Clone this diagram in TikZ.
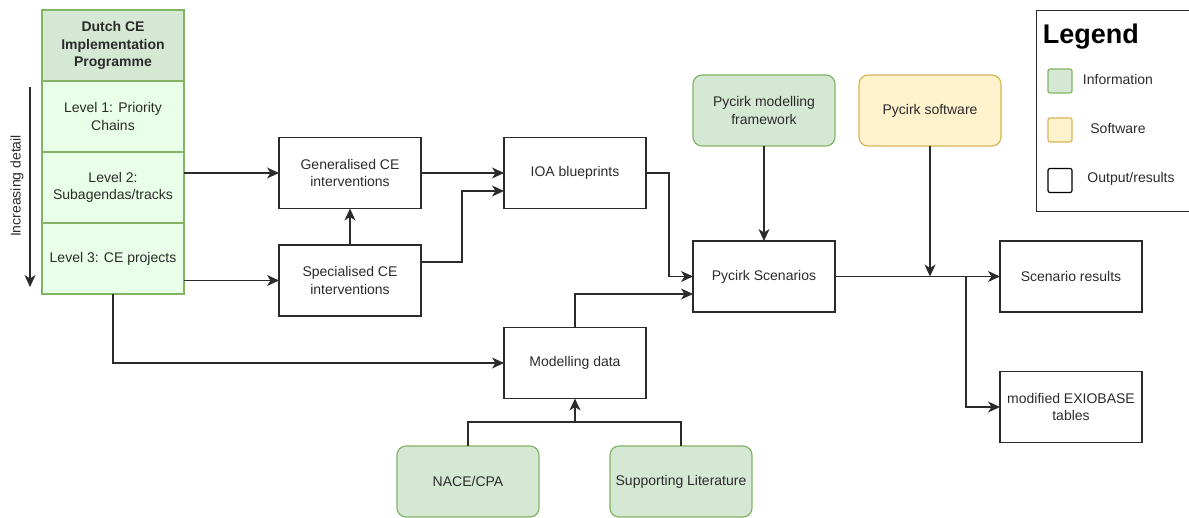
\documentclass[tikz,border=0pt]{standalone}
\usepackage{fontspec}
\setmainfont{Liberation Sans}
\usepackage{tikz}
\usetikzlibrary{positioning,arrows.meta,calc}
\definecolor{infofill}{HTML}{D5E8D4}
\definecolor{infoline}{HTML}{82B366}
\definecolor{levelfill}{HTML}{E8FFE8}
\definecolor{softfill}{HTML}{FFF2CC}
\definecolor{softline}{HTML}{D6B656}
\definecolor{ink}{HTML}{2B2B2B}

\begin{document}
\begin{tikzpicture}[x=1pt,y=-1pt,->,>={Stealth[length=12pt,width=11pt,inset=3.5pt]},
                    line width=1.2pt,draw=ink,text=ink,
                    font=\fontsize{14}{17.5}\selectfont]
  \tikzstyle{box}=[draw=ink,minimum width=142pt,minimum height=71pt,
                   align=center,outer sep=0pt]
  \tikzstyle{info}=[box,draw=infoline,fill=infofill,rounded corners=9pt]
  \tikzstyle{soft}=[box,draw=softline,fill=softfill,rounded corners=9pt]
  \tikzstyle{level}=[box,draw=infoline,fill=levelfill]
  \tikzstyle{swatch}=[draw,minimum size=24pt,inner sep=0pt,rounded corners=2pt]
  \useasboundingbox (0,0) rectangle (1189,518);

  % programme levels
  \node[box,draw=infoline,fill=infofill,font=\fontsize{14}{17.5}\selectfont\bfseries]
        (H) at (113,45.5) {Dutch CE\\Implementation\\Programme};
  \node[level] (L1) [below=0pt of H]  {Level 1: Priority\\Chains};
  \node[level] (L2) [below=0pt of L1] {Level 2:\\Subagendas/tracks};
  \node[level] (L3) [below=0pt of L2] {Level 3: CE projects};
  \coordinate (D1) at (30,87);
  \coordinate (D2) at (30,287);
  \node[rotate=90] (D) at (17,186) {Increasing detail};

  \node[box] (G) at (350,173)   {Generalised CE\\interventions};
  \node[box] (S) at (350,280.5) {Specialised CE\\interventions};
  \node[box] (I) at (575,173)   {IOA blueprints};
  \node[box] (M) at (575,363)   {Modelling data};
  \node[info] (N)  at (468,481.5) {NACE/CPA};
  \node[info] (Li) at (681,481.5) {Supporting Literature};
  \node[info] (F) at (764,110.5) {Pycirk modelling\\framework};
  \node[soft] (W) at (930,110.5) {Pycirk software};
  \node[box] (P) at (764,276.5)  {Pycirk Scenarios};
  \node[box] (R) at (1071,276.5) {Scenario results};
  \node[box] (E) at (1071,407)   {modified EXIOBASE\\tables};
  \coordinate (B) at (966,276.5);
  \coordinate (J) at (575,422);

  % legend
  \node[draw,anchor=north west,minimum width=160pt,minimum height=201pt]
        (Lbox) at (1036,10) {};
  \node[anchor=west,text=black,font=\fontsize{27}{30}\selectfont\bfseries]
        (Lg) at (1039,37) {Legend};
  \node[swatch,draw=infoline,fill=infofill] (Ci) at (1060,81)    {};
  \node[swatch,draw=softline,fill=softfill] (Cs) at (1060,130)   {};
  \node[swatch,draw=black]                  (Co) at (1060,180.5) {};
  \node (Ti) at (1118,80)  {Information};
  \node (Ts) at (1118,129) {Software};
  \node (To) at (1131,179) {Output/results};

  % connectors
  \draw (D1) -- (D2);
  \draw (L2.east |- G.west) -- (G.west);
  \draw (L3.east |- S.west) -- (S.west);
  \draw (S.north) -- (G.south);
  \draw (G.east) -- (I.west);
  \draw ([yshift=18.5pt]S.east) -- ++(41,0) |- ([yshift=-18pt]I.west);
  \draw (I.east) -- ++(23,0) |- (P.west);
  \draw (L3.south) |- (M.west);
  \draw (M.north) |- ([yshift=-17.5pt]P.west);
  \draw[-] (N.north) |- (J) -| (Li.north);
  \draw (J) -- (M.south);
  \draw (F.south) -- (P.north);
  \draw (W.south) -- (W.south |- P.east);
  \draw (P.east) -- (R.west);
  \draw (B) |- (E.west);

\end{tikzpicture}
\end{document}
